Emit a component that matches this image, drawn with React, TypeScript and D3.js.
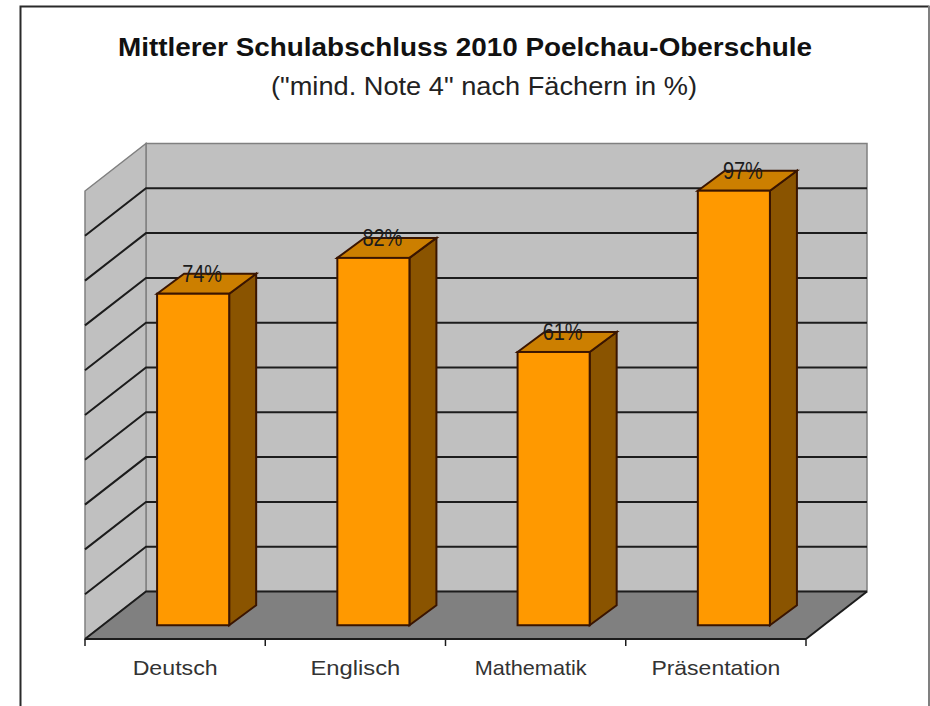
import { useEffect, useRef } from 'react';
import * as d3 from 'd3';

const categories = ['Deutsch', 'Englisch', 'Mathematik', 'Präsentation'];
const values = [74, 82, 61, 97];
const gridTicks = [0, 10, 20, 30, 40, 50, 60, 70, 80, 90, 100];
const titleLines = ['Mittlerer Schulabschluss 2010 Poelchau-Oberschule', '("mind. Note 4" nach Fächern in %)'];

export default function App() {
  const svgRef = useRef<SVGSVGElement>(null);

  useEffect(() => {
    const svg = d3.select(svgRef.current!);
    svg.selectAll('*').remove();

    const left = 85, right = 806, front = 639;
    const depthX = 61, depthY = 47.5;
    const barDepthX = 27, barDepthY = 20;
    const plotH = 448;

    const x = d3.scaleBand<string>().domain(categories).range([left, right]).paddingInner(0.6).paddingOuter(0.3);
    const y = d3.scaleLinear().domain([0, 100]).range([front, front - plotH]);
    const barW = x.bandwidth();
    const shiftX = (depthX - barDepthX) / 2 + 1;
    const shiftY = (depthY - barDepthY) / 2;
    const poly = (pts: [number, number][]) => d3.line()(pts)! + 'Z';

    // page frame: left, top and right only
    svg.append('rect').attr('width', 930).attr('height', 706).attr('fill', '#fff');
    svg.append('path').attr('d', d3.line()([[20.5, 706], [20.5, 6.5], [929.5, 6.5]]))
      .attr('fill', 'none').attr('stroke', '#2a2a2a').attr('stroke-width', 2);
    svg.append('line').attr('x1', 929).attr('x2', 929).attr('y1', 6).attr('y2', 706)
      .attr('stroke', '#808080').attr('stroke-width', 2);

    // walls and floor
    svg.append('path')
      .attr('d', poly([[left + depthX, y(100) - depthY], [right + depthX, y(100) - depthY], [right + depthX, y(0) - depthY], [left + depthX, y(0) - depthY]]))
      .attr('fill', '#c0c0c0').attr('stroke', '#808080').attr('stroke-width', 1.5);
    svg.append('path')
      .attr('d', poly([[left, y(100)], [left + depthX, y(100) - depthY], [left + depthX, y(0) - depthY], [left, y(0)]]))
      .attr('fill', '#c0c0c0').attr('stroke', '#808080').attr('stroke-width', 1.5);
    svg.append('path')
      .attr('d', poly([[left, y(0)], [left + depthX, y(0) - depthY], [right + depthX, y(0) - depthY], [right, y(0)]]))
      .attr('fill', '#808080').attr('stroke', 'none');

    // gridlines
    gridTicks.filter((t) => t < 100).forEach((t) => {
      svg.append('path')
        .attr('d', d3.line()([[left, y(t)], [left + depthX, y(t) - depthY], [right + depthX, y(t) - depthY]]))
        .attr('fill', 'none').attr('stroke', '#1c1c1c').attr('stroke-width', 2);
    });
    svg.append('line')
      .attr('x1', right).attr('x2', right + depthX).attr('y1', y(0)).attr('y2', y(0) - depthY)
      .attr('stroke', '#1c1c1c').attr('stroke-width', 2);

    // bars
    categories.forEach((c, i) => {
      const x0 = x(c)! + shiftX;
      const x1 = x0 + barW;
      const yb = y(0) - shiftY;
      const yt = yb - (y(0) - y(values[i]));
      const stroke = '#3a1500';
      svg.append('path')
        .attr('d', poly([[x1, yb], [x1 + barDepthX, yb - barDepthY], [x1 + barDepthX, yt - barDepthY], [x1, yt]]))
        .attr('fill', '#8a5400').attr('stroke', stroke).attr('stroke-width', 2);
      svg.append('path')
        .attr('d', poly([[x0, yt], [x0 + barDepthX, yt - barDepthY], [x1 + barDepthX, yt - barDepthY], [x1, yt]]))
        .attr('fill', '#cc7f00').attr('stroke', stroke).attr('stroke-width', 2);
      svg.append('rect')
        .attr('x', x0).attr('y', yt).attr('width', barW).attr('height', yb - yt)
        .attr('fill', '#ff9900').attr('stroke', stroke).attr('stroke-width', 2);
      svg.append('text')
        .attr('x', x0 + barW / 2 + 9).attr('y', yt - 12)
        .attr('text-anchor', 'middle').attr('font-family', 'Liberation Sans').attr('font-size', 23)
        .attr('fill', '#1c1c1c').attr('textLength', 40).attr('lengthAdjust', 'spacingAndGlyphs')
        .text(`${values[i]}%`);
    });

    // category axis
    svg.append('line').attr('x1', left).attr('x2', right).attr('y1', y(0)).attr('y2', y(0))
      .attr('stroke', '#1c1c1c').attr('stroke-width', 2);
    const edges = categories.map((c) => x(c)! - (x.step() - barW) / 2).concat(right);
    edges.forEach((e) => {
      svg.append('line').attr('x1', e).attr('x2', e).attr('y1', y(0)).attr('y2', y(0) + 7)
        .attr('stroke', '#1c1c1c').attr('stroke-width', 1.5);
    });
    const labelW = [85, 90, 112, 129];
    const labelNudge = [0, 0, -5, 0];
    categories.forEach((c, i) => {
      svg.append('text')
        .attr('x', x(c)! + barW / 2 + labelNudge[i]).attr('y', 675)
        .attr('text-anchor', 'middle').attr('font-family', 'Liberation Sans').attr('font-size', 21)
        .attr('fill', '#333')
        .attr('textLength', labelW[i]).attr('lengthAdjust', 'spacingAndGlyphs')
        .text(c);
    });

    // titles
    svg.append('text').attr('x', 465).attr('y', 56).attr('text-anchor', 'middle')
      .attr('font-family', 'Liberation Sans').attr('font-weight', 'bold').attr('font-size', 26)
      .attr('fill', '#111').attr('textLength', 694).attr('lengthAdjust', 'spacingAndGlyphs').text(titleLines[0]);
    svg.append('text').attr('x', 484).attr('y', 95).attr('text-anchor', 'middle')
      .attr('font-family', 'Liberation Sans').attr('font-size', 26)
      .attr('fill', '#222').attr('textLength', 426).attr('lengthAdjust', 'spacingAndGlyphs').text(titleLines[1]);
  }, []);

  return (
    <div style={{ position: 'absolute', left: 0, top: 0 }}>
      <svg ref={svgRef} width={930} height={706} style={{ display: 'block' }} role="img" aria-label="Mittlerer Schulabschluss 2010" />
    </div>
  );
}
